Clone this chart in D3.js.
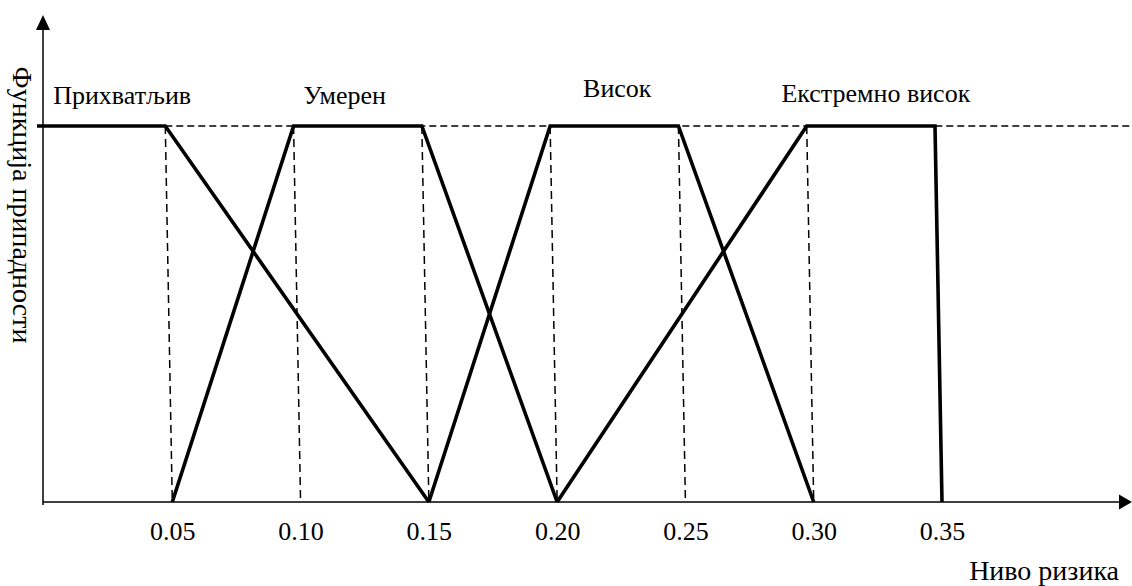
<!DOCTYPE html>
<html>
<head>
<meta charset="utf-8">
<script src="https://cdn.jsdelivr.net/npm/d3@7"></script>
<style>
  html, body { margin: 0; padding: 0; background: #fff; }
  svg { display: block; }
  text { font-family: "Liberation Serif", "Times New Roman", serif; fill: #000; }
</style>
</head>
<body>
<svg id="chart" width="1132" height="586"></svg>
<script>
// ---- data ----
const setNames = ["Прихватљив", "Умерен", "Висок", "Екстремно висок"];
const acceptable = [[0, 1], [0.05, 1], [0.15, 0]];
const moderate   = [[0.05, 0], [0.10, 1], [0.15, 1], [0.20, 0]];
const high       = [[0.15, 0], [0.20, 1], [0.25, 1], [0.30, 0]];
const extreme    = [[0.20, 0], [0.30, 1], [0.35, 1], [0.35, 0]];
const tickValues = [0.05, 0.10, 0.15, 0.20, 0.25, 0.30, 0.35];
const tickLabels = ["0.05", "0.10", "0.15", "0.20", "0.25", "0.30", "0.35"];
const guideValues = [0.05, 0.10, 0.15, 0.20, 0.25, 0.30];
const xTitle = "Ниво ризика";
const yTitle = "Функција припадности";

// ---- layout ----
const W = 1132, H = 586;
const svg = d3.select("#chart");
const x = d3.scaleLinear().domain([0, 0.35]).range([44, 942]);
const y = d3.scaleLinear().domain([0, 1]).range([502, 126]);
const y0 = y(0);
const skewDeg = Math.atan(7 / (y(0) - y(1))) * 180 / Math.PI;

// axes lines with arrows
const axisG = svg.append("g");
axisG.append("line")
  .attr("x1", x(0) - 1).attr("x2", W - 12)
  .attr("y1", y0).attr("y2", y0)
  .attr("stroke", "#000").attr("stroke-width", 1.5);
axisG.append("path")
  .attr("d", `M${W},${y0} L${W - 13},${y0 - 7.5} L${W - 13},${y0 + 7.5} Z`)
  .attr("fill", "#000");
axisG.append("line")
  .attr("x1", x(0) - 1).attr("x2", x(0) - 1)
  .attr("y1", y0 + 3).attr("y2", 28)
  .attr("stroke", "#000").attr("stroke-width", 1.5);
axisG.append("path")
  .attr("d", `M${x(0) - 1},15 L${x(0) - 8},30 L${x(0) + 6},30 Z`)
  .attr("fill", "#000");

// tick labels via d3 axis
const xAxis = d3.axisBottom(x)
  .tickValues(tickValues)
  .tickFormat((d, i) => tickLabels[i])
  .tickSize(0)
  .tickPadding(19.5);
const xa = svg.append("g").attr("transform", `translate(0,${y0})`).call(xAxis);
xa.select(".domain").remove();
xa.selectAll("text")
  .attr("font-family", "Liberation Serif, Times New Roman, serif")
  .attr("font-size", 26)
  .attr("fill", "#000");

// plot group (slightly sheared like the original drawing)
const plot = svg.append("g")
  .attr("transform", `translate(0,${y0}) skewX(${skewDeg})`);
const yr = v => y(v) - y0;

// top dashed line
svg.append("line")
  .attr("x1", x(0.05) - 7).attr("x2", W)
  .attr("y1", y(1)).attr("y2", y(1))
  .attr("stroke", "#000").attr("stroke-width", 1.5)
  .attr("stroke-dasharray", "7,4");

// vertical dashed guides
plot.selectAll("line.guide")
  .data(guideValues)
  .join("line")
  .attr("class", "guide")
  .attr("x1", d => x(d)).attr("x2", d => x(d))
  .attr("y1", yr(1)).attr("y2", yr(0))
  .attr("stroke", "#000").attr("stroke-width", 1.5)
  .attr("stroke-dasharray", "8,5");

// membership functions
const line = d3.line().x(d => x(d[0])).y(d => yr(d[1]));
plot.selectAll("path.mf")
  .data([acceptable, moderate, high, extreme])
  .join("path")
  .attr("class", "mf")
  .attr("d", line)
  .attr("fill", "none")
  .attr("stroke", "#000")
  .attr("stroke-width", 3.6)
  .attr("stroke-linejoin", "miter")
  .attr("stroke-linecap", "butt");

// set labels (centred over plateau with small offsets as in original)
const plateauMid = [0.025, 0.125, 0.225, 0.325];
const labelDx = [14, -20, -4, -2];
const labelY = [104, 104, 97, 102];
svg.selectAll("text.setlabel")
  .data(setNames)
  .join("text")
  .attr("class", "setlabel")
  .attr("x", (d, i) => x(plateauMid[i]) + labelDx[i])
  .attr("y", (d, i) => labelY[i])
  .attr("text-anchor", "middle")
  .attr("font-size", 26)
  .text(d => d);

// axis titles
svg.append("text")
  .attr("x", 1119).attr("y", 580)
  .attr("text-anchor", "end")
  .attr("font-size", 28)
  .text(xTitle);

svg.append("text")
  .attr("transform", `translate(13,205) rotate(90)`)
  .attr("text-anchor", "middle")
  .attr("font-size", 28)
  .text(yTitle);
</script>
</body>
</html>
